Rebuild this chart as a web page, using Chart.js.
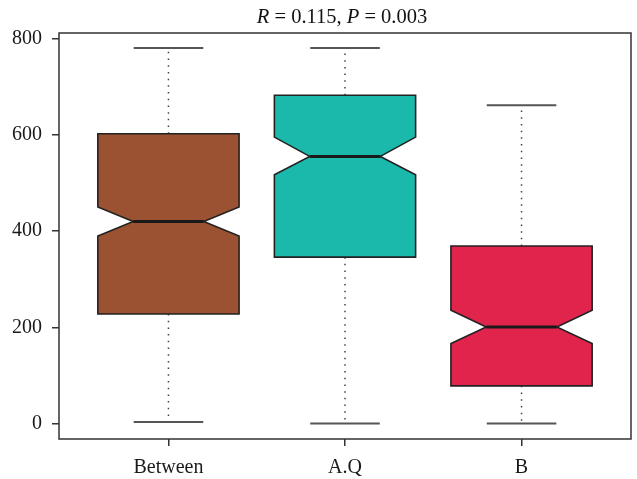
<!DOCTYPE html>
<html>
<head>
<meta charset="utf-8">
<script src="https://cdn.jsdelivr.net/npm/chart.js@4/dist/chart.umd.min.js"></script>
<style>
html,body{margin:0;padding:0;background:#fff;}
#wrap{width:637px;height:479px;position:relative;}
</style>
</head>
<body>
<div id="wrap"><canvas id="c"></canvas></div>
<script>
// ---- data ----
const categories = ['Between', 'A.Q', 'B'];
const whiskerMin = [4, 1, 1];
const q1 = [228, 346, 79];
const median = [420, 555, 201];
const q3 = [602, 682, 369];
const whiskerMax = [780, 780, 661];
const notchLow = [390, 517, 167];
const notchHigh = [450, 595, 236];
const yTicks = [0, 200, 400, 600, 800];
const fillColors = ['#9B5232', '#1BB9AC', '#E1244B'];
const titleParts = [['R', true], [' = 0.115, ', false], ['P', true], [' = 0.003', false]];

const FONT = '"Liberation Serif", "Times New Roman", serif';

const framePlugin = {
  id: 'frame',
  afterDraw(chart) {
    const {ctx, chartArea: a} = chart;
    ctx.save();
    ctx.strokeStyle = '#333';
    ctx.lineWidth = 1.5;
    ctx.strokeRect(a.left, a.top, a.right - a.left, a.bottom - a.top);
    ctx.restore();
  }
};

const titlePlugin = {
  id: 'rtitle',
  afterDraw(chart) {
    const {ctx, chartArea: a} = chart;
    ctx.save();
    ctx.fillStyle = '#111';
    ctx.textBaseline = 'alphabetic';
    const fonts = titleParts.map(p => (p[1] ? 'italic ' : '') + '20.5px ' + FONT);
    let total = 0;
    const widths = titleParts.map((p, i) => { ctx.font = fonts[i]; const w = ctx.measureText(p[0]).width; total += w; return w; });
    let xpos = (a.left + a.right) / 2 - total / 2 - 3;
    titleParts.forEach((p, i) => {
      ctx.font = fonts[i];
      ctx.textAlign = 'left';
      ctx.fillText(p[0], xpos, 22.5);
      xpos += widths[i];
    });
    ctx.restore();
  }
};

const boxPlugin = {
  id: 'notchbox',
  afterDatasetsDraw(chart) {
    const {ctx, scales: {x, y}} = chart;
    const boxHalf = 0.4, notchHalf = 0.2, capHalf = 0.197;
    ctx.save();
    categories.forEach((c, i) => {
      const pos = i + 1;
      const xl = x.getPixelForValue(pos - boxHalf);
      const xr = x.getPixelForValue(pos + boxHalf);
      const nl = x.getPixelForValue(pos - notchHalf);
      const nr = x.getPixelForValue(pos + notchHalf);
      const cx = x.getPixelForValue(pos);
      const cl = x.getPixelForValue(pos - capHalf);
      const cr = x.getPixelForValue(pos + capHalf);
      const yq1 = y.getPixelForValue(q1[i]);
      const yq3 = y.getPixelForValue(q3[i]);
      const ym = y.getPixelForValue(median[i]);
      const ynl = y.getPixelForValue(notchLow[i]);
      const ynh = y.getPixelForValue(notchHigh[i]);
      const ymin = y.getPixelForValue(whiskerMin[i]);
      const ymax = y.getPixelForValue(whiskerMax[i]);

      // whiskers (dotted)
      ctx.strokeStyle = '#444';
      ctx.lineWidth = 1.5;
      ctx.setLineDash([1.5, 5.2]);
      ctx.beginPath();
      ctx.moveTo(cx, yq3); ctx.lineTo(cx, ymax);
      ctx.moveTo(cx, yq1); ctx.lineTo(cx, ymin);
      ctx.stroke();
      ctx.setLineDash([]);
      // caps
      ctx.strokeStyle = '#555';
      ctx.lineWidth = 2;
      ctx.beginPath();
      ctx.moveTo(cl, ymax); ctx.lineTo(cr, ymax);
      ctx.moveTo(cl, ymin); ctx.lineTo(cr, ymin);
      ctx.stroke();

      // notched box
      ctx.beginPath();
      ctx.moveTo(xl, yq1);
      ctx.lineTo(xl, ynl);
      ctx.lineTo(nl, ym);
      ctx.lineTo(xl, ynh);
      ctx.lineTo(xl, yq3);
      ctx.lineTo(xr, yq3);
      ctx.lineTo(xr, ynh);
      ctx.lineTo(nr, ym);
      ctx.lineTo(xr, ynl);
      ctx.lineTo(xr, yq1);
      ctx.closePath();
      ctx.fillStyle = fillColors[i];
      ctx.fill();
      ctx.strokeStyle = '#222';
      ctx.lineWidth = 1.6;
      ctx.lineJoin = 'miter';
      ctx.stroke();

      // median
      ctx.strokeStyle = '#1a1a1a';
      ctx.lineWidth = 3;
      ctx.beginPath();
      ctx.moveTo(nl, ym); ctx.lineTo(nr, ym);
      ctx.stroke();
    });
    ctx.restore();
  }
};

new Chart(document.getElementById('c'), {
  type: 'scatter',
  data: {
    datasets: [{
      data: categories.map((c, i) => ({x: i + 1, y: median[i]})),
      pointRadius: 0,
      showLine: false
    }]
  },
  options: {
    responsive: true,
    maintainAspectRatio: false,
    animation: false,
    events: [],
    layout: {padding: {left: 0, top: 33, right: 6, bottom: 0}},
    plugins: {legend: {display: false}, tooltip: {enabled: false}, title: {display: false}},
    scales: {
      x: {
        type: 'linear',
        min: 0.38, max: 3.62,
        afterBuildTicks: s => { s.ticks = categories.map((c, i) => ({value: i + 1})); },
        afterFit: s => { s.height = 40; },
        grid: {drawOnChartArea: false, drawTicks: true, tickLength: 7, color: '#333', lineWidth: 1.5},
        border: {display: false},
        ticks: {
          callback: v => categories[v - 1] || '',
          color: '#1a1a1a', padding: 10,
          font: {family: FONT, size: 20},
          maxRotation: 0, autoSkip: false
        }
      },
      y: {
        type: 'linear',
        min: -31.3, max: 811,
        afterBuildTicks: s => { s.ticks = yTicks.map(v => ({value: v})); },
        afterFit: s => { s.width = 59; },
        grid: {drawOnChartArea: false, drawTicks: true, tickLength: 7, color: '#333', lineWidth: 1.5},
        border: {display: false},
        ticks: {
          color: '#1a1a1a', padding: 10,
          font: {family: FONT, size: 20}
        }
      }
    }
  },
  plugins: [boxPlugin, framePlugin, titlePlugin]
});
</script>
</body>
</html>
